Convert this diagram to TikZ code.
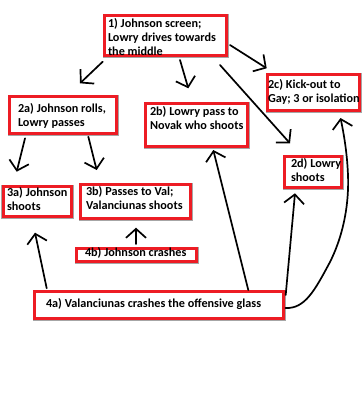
\documentclass[tikz,border=0pt]{standalone}
\usepackage{fontspec}
\setmainfont{Carlito}
\usetikzlibrary{arrows.meta,calc}
\definecolor{boxred}{RGB}{237,28,36}
\tikzset{
  box/.style={draw=boxred, line width=2.6pt, fill=white, inner sep=0pt, outer sep=0pt,
              preaction={draw=black!35, line width=3.6pt}},
  txt/.style={anchor=base west, inner sep=0pt, outer sep=0pt, align=left,
              font=\fontsize{12.2pt}{14.3pt}\selectfont\bfseries},
  arr/.style={line width=1.7pt, line cap=round,
              -{Straight Barb[length=9pt,width=20pt,line width=1.7pt]}}
}
\begin{document}
\begin{tikzpicture}[x=1pt,y=-1pt]
\useasboundingbox (0,0) rectangle (362,400);
\fill[white] (0,0) rectangle (362,400);
% boxes
\node[box, minimum width=122.4pt, minimum height=40.4pt] (b1) at (165.5,35.5) {};
\node[box, minimum width=92.4pt, minimum height=36.4pt] (b2c) at (313.5,92.5) {};
\node[box, minimum width=107.4pt, minimum height=37.4pt] (b2a) at (63,115) {};
\node[box, minimum width=102.4pt, minimum height=43.4pt] (b2b) at (196.5,125) {};
\node[box, minimum width=57.4pt, minimum height=31.4pt] (b2d) at (313,172) {};
\node[box, minimum width=68.4pt, minimum height=30.4pt] (b3a) at (37.5,201.5) {};
\node[box, minimum width=110.4pt, minimum height=34.4pt] (b3b) at (135.5,201.5) {};
\node[box, minimum width=120.4pt, minimum height=13.4pt] (b4b) at (136.5,255) {};
\node[box, minimum width=249.4pt, minimum height=27.4pt] (b4a) at (159,305) {};
% texts (anchor = baseline of the last line)
\node[txt] (t1) at (108,55.6) {1) Johnson screen;\\Lowry drives towards\\the middle};
\node[txt] (t2c) at (268,102.5) {2c) Kick-out to\\Gay; 3 or isolation};
\node[txt] (t2a) at (18,126.3) {2a) Johnson rolls,\\Lowry passes};
\node[txt] (t2b) at (150,129.3) {2b) Lowry pass to\\Novak who shoots};
\node[txt] (t2d) at (291,181.3) {2d) Lowry\\shoots};
\node[txt] (t3a) at (7,210.3) {3a) Johnson\\shoots};
\node[txt] (t3b) at (86,209.3) {3b) Passes to Val;\\Valanciunas shoots};
\node[txt] (t4b) at (85,256) {4b) Johnson crashes};
\node[txt] (t4a) at (46,307) {4a) Valanciunas crashes the offensive glass};
% connector end points
\coordinate (a1s) at (102.7,61.7);  \coordinate (a1e) at (80,83.3);
\coordinate (a2s) at (180,60);      \coordinate (a2e) at (188.3,88.3);
\coordinate (a3s) at (230,45);      \coordinate (a3e) at (266.7,68.3);
\coordinate (a4s) at (220,65);      \coordinate (a4e) at (290,143.3);
\coordinate (a5s) at (25,138.3);    \coordinate (a5e) at (16.7,171.7);
\coordinate (a6s) at (88.3,136.7);  \coordinate (a6e) at (96.7,170);
\coordinate (a7s) at (46.7,288.3);  \coordinate (a7e) at (35,232.7);
\coordinate (a8s) at (136,244);     \coordinate (a8e) at (136,227.7);
\coordinate (a9s) at (248.3,290);   \coordinate (a9e) at (213.3,150);
\coordinate (a10s) at (285.7,295);  \coordinate (a10e) at (295,193.3);
\coordinate (a11s) at (285.5,308);  \coordinate (a11e) at (340.5,118);
% connectors
\draw[arr] (a1s) -- (a1e);
\draw[arr] (a2s) -- (a2e);
\draw[arr] (a3s) -- (a3e);
\draw[arr] (a4s) -- (a4e);
\draw[arr] (a5s) -- (a5e);
\draw[arr] (a6s) -- (a6e);
\draw[arr] (a7s) -- (a7e);
\draw[arr] (a8s) -- (a8e);
\draw[arr] (a9s) -- (a9e);
\draw[arr] (a10s) -- (a10e);
\draw[arr] (a11s) .. controls (305,309) and (315,290) .. (330,262)
  .. controls (345,232) and (349,200) .. (348,175)
  .. controls (347,150) and (343,130) .. (a11e);
\end{tikzpicture}
\end{document}
